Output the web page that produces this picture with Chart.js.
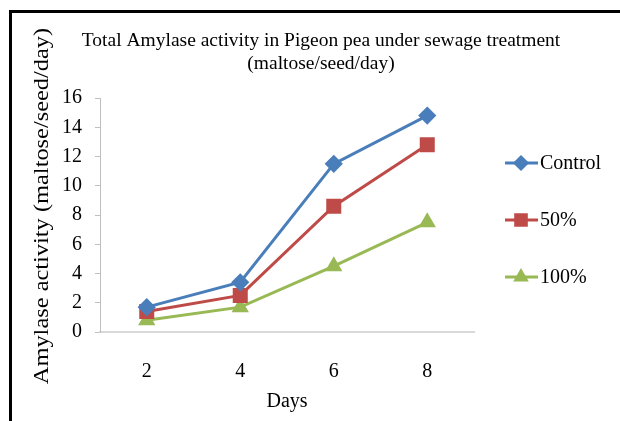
<!DOCTYPE html>
<html><head><meta charset="utf-8">
<script src="https://cdn.jsdelivr.net/npm/chart.js@4"></script>
<style>
html,body{margin:0;padding:0;background:#fff;overflow:hidden;}
#wrap{position:absolute;left:0;top:0;width:620px;height:421px;}
#frame{position:absolute;left:9px;top:10px;width:700px;height:500px;border:3px solid #000;box-sizing:border-box;pointer-events:none;}
</style></head>
<body>
<div id="wrap"><canvas id="c" width="620" height="421"></canvas></div>
<div id="frame"></div>
<script>
const days = ['2', '4', '6', '8'];
const seriesNames = ['Control', '50%', '100%'];
const controlValues = [1.7, 3.4, 11.5, 14.8];
const half50Values = [1.4, 2.5, 8.6, 12.8];
const full100Values = [0.8, 1.7, 4.5, 7.5];
const yTicks = [0, 2, 4, 6, 8, 10, 12, 14, 16];
const titleLines = ['Total Amylase activity in Pigeon pea under sewage treatment', '(maltose/seed/day)'];
const yTitle = 'Amylase activity (maltose/seed/day)';
const xTitle = 'Days';

const colors = ['#4a7ebb', '#be4b48', '#98b954'];
const styles = ['rectRot', 'rect', 'triangle'];
const radii = [7, 8.5, 7];
const serif = "'Liberation Serif', 'DejaVu Serif', serif";

const textPlugin = {
  id: 'textAndLegend',
  afterDraw(chart) {
    const ctx = chart.ctx;
    ctx.save();
    ctx.fillStyle = '#000';
    ctx.font = '19.5px ' + serif;
    ctx.textAlign = 'center';
    ctx.textBaseline = 'middle';
    ctx.fillText(titleLines[0], 321, 41);
    ctx.fillText(titleLines[1], 321, 64);
    ctx.save();
    ctx.translate(43, 206);
    ctx.rotate(-Math.PI / 2);
    ctx.scale(1.22, 1);
    ctx.font = '20px ' + serif;
    ctx.fillText(yTitle, 0, 0);
    ctx.restore();
    const ys = [163, 220, 277];
    chart.data.datasets.forEach((ds, i) => {
      const y = ys[i];
      ctx.save();
      ctx.strokeStyle = ds.borderColor;
      ctx.lineWidth = 3;
      ctx.beginPath(); ctx.moveTo(505, y); ctx.lineTo(538, y); ctx.stroke();
      ctx.fillStyle = ds.borderColor;
      ctx.strokeStyle = ds.borderColor;
      Chart.helpers.drawPoint(ctx, {pointStyle: ds.pointStyle, radius: ds.pointRadius - 1, borderWidth: 1}, 521, y);
      ctx.fillStyle = '#000';
      ctx.font = '20px ' + serif;
      ctx.textBaseline = 'middle';
      ctx.textAlign = 'left';
      ctx.fillText(ds.label, 540, y + 1);
      ctx.restore();
    });
    ctx.restore();
  }
};

const values = [controlValues, half50Values, full100Values];
new Chart(document.getElementById('c'), {
  type: 'line',
  data: {
    labels: days,
    datasets: values.map((v, i) => ({
      label: seriesNames[i],
      data: v,
      borderColor: colors[i],
      backgroundColor: colors[i],
      pointBackgroundColor: colors[i],
      pointBorderColor: colors[i],
      pointStyle: styles[i],
      pointRadius: radii[i],
      borderWidth: 3,
      tension: 0
    }))
  },
  options: {
    responsive: false,
    animation: false,
    layout: {padding: {left: 0, right: 146, top: 98, bottom: 0}},
    plugins: {
      legend: {display: false},
      tooltip: {enabled: false},
      title: {display: false}
    },
    scales: {
      x: {
        offset: true,
        afterFit(scale) { scale.height = 89; },
        grid: {display: false},
        border: {display: true, color: '#d9d9d9', width: 2},
        ticks: {color: '#000', font: {family: serif, size: 20}, padding: 20},
        title: {display: true, text: xTitle, color: '#000', font: {family: serif, size: 20}, padding: {top: 10, bottom: 7}}
      },
      y: {
        min: 0, max: 16,
        afterBuildTicks(scale) { scale.ticks = yTicks.map(v => ({value: v})); },
        afterFit(scale) { scale.width = 100; },
        grid: {display: true, drawOnChartArea: false, drawTicks: true, tickLength: 5, color: '#bfbfbf'},
        border: {display: true, color: '#bfbfbf', width: 1},
        ticks: {color: '#000', font: {family: serif, size: 20}, padding: 13},
        title: {display: false}
      }
    }
  },
  plugins: [textPlugin]
});
</script>
</body></html>
